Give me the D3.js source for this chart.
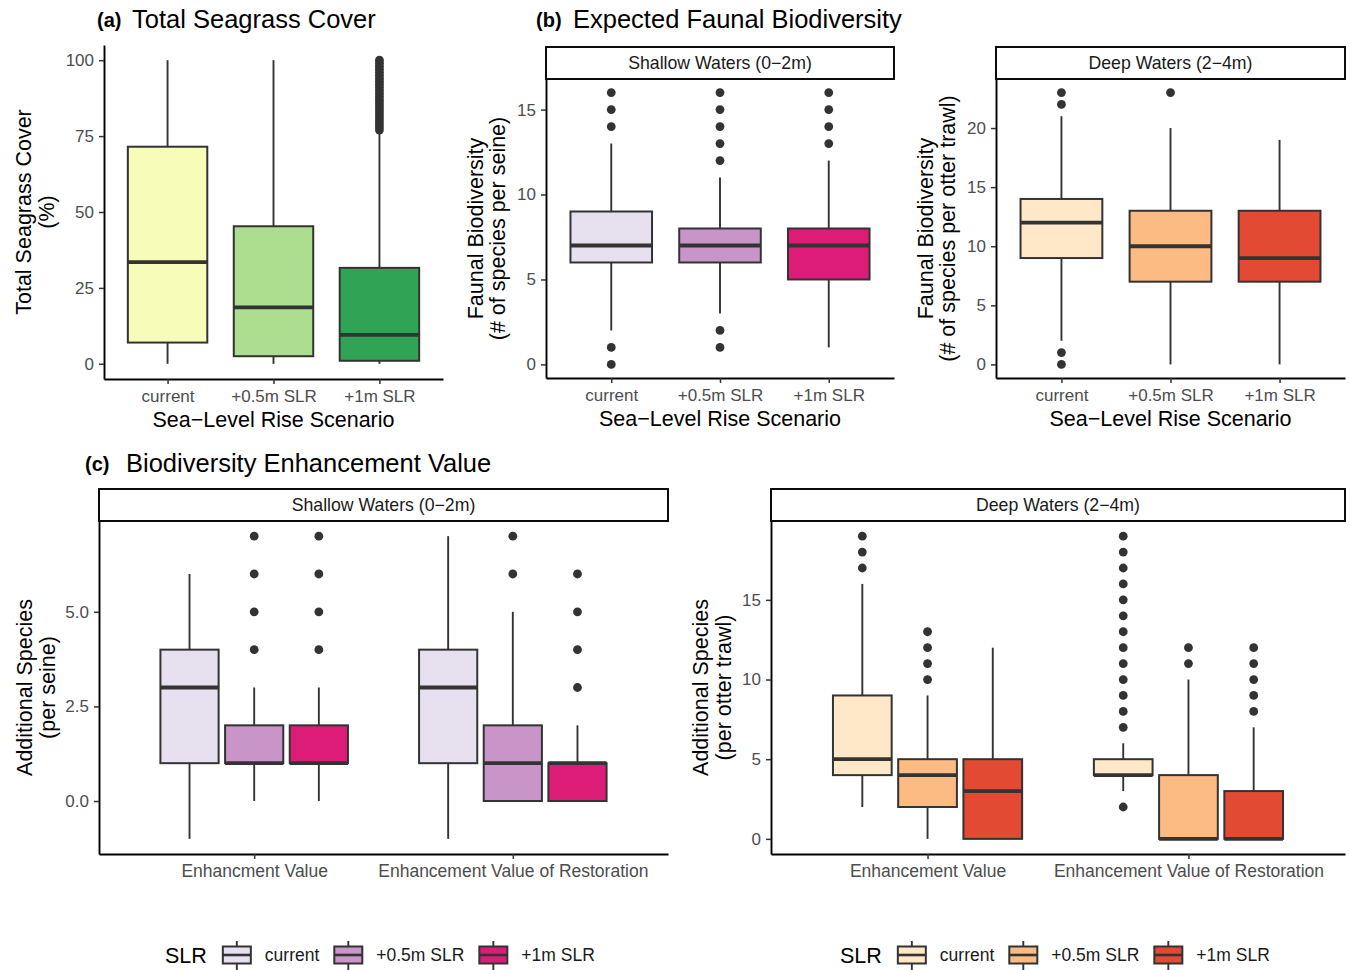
<!DOCTYPE html>
<html lang="en">
<head>
<meta charset="UTF-8">
<title>Seagrass Cover and Faunal Biodiversity under Sea-Level Rise</title>
<script src="https://d3js.org/d3.v7.min.js"></script>
<style>
  body { margin: 0; background: #fff; }
  svg text { font-family: "Liberation Sans", Arial, sans-serif; }
  .axis .domain { stroke: #000; stroke-width: 1.9px; }
  .axis .tick line { stroke: #333; stroke-width: 1.5px; }
  .axis .tick text { fill: #4d4d4d; font-size: 17px; }
  .axis.wide .tick text { font-size: 17.5px; }
  .axis-title { fill: #000; font-size: 21.5px; }
  .strip-label { fill: #1a1a1a; font-size: 17.7px; }
  .panel-tag { fill: #000; font-weight: bold; font-size: 20px; }
  .panel-title { fill: #000; font-size: 25.5px; }
  .legend-title { fill: #000; font-size: 21.5px; }
  .legend-label { fill: #1a1a1a; font-size: 17.5px; }
</style>
</head>
<body>
<svg width="1349" height="970"></svg>
<script>
// ---- data ----
const slrLevels = ["current", "+0.5m SLR", "+1m SLR"];
const shallowMetrics = ["Enhancment Value", "Enhancement Value of Restoration"];
const deepMetrics = ["Enhancement Value", "Enhancement Value of Restoration"];

const coverColors = ["#f7fcb9", "#addd8e", "#31a354"];
const shallowColors = ["#e7e1ef", "#c994c7", "#dd1c77"];
const deepColors = ["#fee8c8", "#fdbb84", "#e34a33"];

// each box: [lower whisker, Q1, median, Q3, upper whisker]
const coverStats = [[0, 7, 33.5, 71.5, 100], [0, 2.5, 18.6, 45.3, 100], [0, 1, 9.5, 31.6, 76.5]];
const coverOutliers = [[], [], [77, 78, 79, 80, 81, 82, 83, 84, 85, 86, 87, 88, 89, 90, 91, 92, 93, 94, 95, 96, 97, 98, 99, 100]];

const seineStats = [[2, 6, 7, 9, 13], [3, 6, 7, 8, 11], [1, 5, 7, 8, 12]];
const seineOutliers = [[0, 1, 14, 15, 16], [1, 2, 12, 13, 14, 15, 16], [13, 14, 15, 16]];

const trawlStats = [[2, 9, 12, 14, 21], [0, 7, 10, 13, 20], [0, 7, 9, 13, 19]];
const trawlOutliers = [[0, 1, 22, 23], [23], []];

// [metric][SLR level]
const shallowGainStats = [
  [[-1, 1, 3, 4, 6], [0, 1, 1, 2, 3], [0, 1, 1, 2, 3]],
  [[-1, 1, 3, 4, 7], [0, 0, 1, 2, 5], [0, 0, 1, 1, 2]]
];
const shallowGainOutliers = [
  [[], [4, 5, 6, 7], [4, 5, 6, 7]],
  [[], [6, 7], [3, 4, 5, 6]]
];
const deepGainStats = [
  [[2, 4, 5, 9, 16], [0, 2, 4, 5, 9], [0, 0, 3, 5, 12]],
  [[3, 4, 4, 5, 6], [0, 0, 0, 4, 10], [0, 0, 0, 3, 7]]
];
const deepGainOutliers = [
  [[17, 18, 19], [10, 11, 12, 13], []],
  [[2, 7, 8, 9, 10, 11, 12, 13, 14, 15, 16, 17, 18, 19], [11, 12], [8, 9, 10, 11, 12]]
];

// ---- drawing ----
const svg = d3.select("svg");
const ink = "#333";

function drawPanel(p) {
  const g = svg.append("g");

  // boxes, flattened
  let boxes;
  if (p.dodge) {
    boxes = p.categories.flatMap((c, ci) => slrLevels.map((l, li) => ({
      cat: c, level: li, s: p.stats[ci][li], out: p.outliers[ci][li]
    })));
  } else {
    boxes = slrLevels.map((l, li) => ({ cat: l, level: li, s: p.stats[li], out: p.outliers[li] }));
  }

  const allVals = boxes.flatMap(b => b.s.concat(b.out));
  const [lo, hi] = d3.extent(allVals);
  const pad = (hi - lo) * 0.05;

  const x = d3.scalePoint().domain(p.categories).range([p.left, p.right]).padding(0.6);
  const y = d3.scaleLinear().domain([lo - pad, hi + pad]).range([p.bottom, p.top]);

  const step = x.step();
  const slot = p.dodge ? step * 0.75 / 3 : step * 0.75;
  const bw = p.dodge ? slot * 0.9 : slot;
  const cx = b => x(b.cat) + (p.dodge ? (b.level - 1) * slot : 0);

  // strip
  if (p.strip) {
    g.append("rect")
      .attr("x", p.left).attr("y", p.top - 32)
      .attr("width", p.right - p.left).attr("height", 32)
      .attr("fill", "#fff").attr("stroke", "#000").attr("stroke-width", 1.9);
    g.append("text").attr("class", "strip-label")
      .attr("x", (p.left + p.right) / 2).attr("y", p.top - 10)
      .attr("text-anchor", "middle").text(p.strip);
  }

  const bx = g.selectAll(".box").data(boxes).enter().append("g").attr("class", "box");

  // whiskers
  bx.append("line")
    .attr("x1", cx).attr("x2", cx)
    .attr("y1", b => y(b.s[0])).attr("y2", b => y(b.s[1]))
    .attr("stroke", ink).attr("stroke-width", 1.9);
  bx.append("line")
    .attr("x1", cx).attr("x2", cx)
    .attr("y1", b => y(b.s[3])).attr("y2", b => y(b.s[4]))
    .attr("stroke", ink).attr("stroke-width", 1.9);

  // box
  bx.append("rect")
    .attr("x", b => cx(b) - bw / 2).attr("width", bw)
    .attr("y", b => y(b.s[3])).attr("height", b => y(b.s[1]) - y(b.s[3]))
    .attr("fill", b => p.colors[b.level])
    .attr("stroke", ink).attr("stroke-width", 2);

  // median
  bx.append("line")
    .attr("x1", b => cx(b) - bw / 2).attr("x2", b => cx(b) + bw / 2)
    .attr("y1", b => y(b.s[2])).attr("y2", b => y(b.s[2]))
    .attr("stroke", ink).attr("stroke-width", 3.8);

  // outliers
  bx.selectAll("circle").data(b => b.out.map(v => ({ v, b }))).enter()
    .append("circle")
    .attr("cx", d => cx(d.b)).attr("cy", d => y(d.v))
    .attr("r", 4.4).attr("fill", ink);

  // axes
  g.append("g").attr("class", "axis")
    .attr("transform", `translate(${p.left},0)`)
    .call(d3.axisLeft(y).tickValues(p.yTicks).tickFormat(p.yFormat || d3.format("d"))
      .tickSize(5).tickSizeOuter(0).tickPadding(5))
    .call(a => a.selectAll("text").attr("font-family", null).attr("font-size", null));

  g.append("g").attr("class", p.dodge ? "axis wide" : "axis")
    .attr("transform", `translate(0,${p.bottom})`)
    .call(d3.axisBottom(x).tickSize(5).tickSizeOuter(0).tickPadding(6))
    .call(a => a.selectAll("text").attr("font-family", null).attr("font-size", null));

  svg.selectAll(".axis").attr("font-family", null).attr("font-size", null);

  // y title, two lines
  const midY = (p.top + p.bottom) / 2;
  p.yTitle.forEach((t, i) => {
    g.append("text").attr("class", "axis-title")
      .attr("transform", `translate(${p.yTitleX[i]},${midY}) rotate(-90)`)
      .attr("text-anchor", "middle").text(t);
  });

  if (p.xTitle) {
    g.append("text").attr("class", "axis-title")
      .attr("x", (p.left + p.right) / 2).attr("y", p.bottom + 48)
      .attr("text-anchor", "middle").text(p.xTitle);
  }
}

function drawTitle(xTag, xTitle, yBase, tag, title) {
  svg.append("text").attr("class", "panel-tag").attr("x", xTag).attr("y", yBase - 1).text(tag);
  svg.append("text").attr("class", "panel-title").attr("x", xTitle).attr("y", yBase).text(title);
}

function drawLegend(x0, yMid, colors) {
  const g = svg.append("g");
  let x = x0;
  const title = g.append("text").attr("class", "legend-title")
    .attr("x", x).attr("y", yMid + 8).text("SLR");
  x += title.node().getComputedTextLength() + 16;
  slrLevels.forEach((l, i) => {
    const kw = 28, cxk = x + kw / 2;
    g.append("line").attr("x1", cxk).attr("x2", cxk).attr("y1", yMid - 14).attr("y2", yMid + 15)
      .attr("stroke", ink).attr("stroke-width", 1.9);
    g.append("rect").attr("x", x).attr("y", yMid - 8.5).attr("width", kw).attr("height", 17)
      .attr("fill", colors[i]).attr("stroke", ink).attr("stroke-width", 2);
    g.append("line").attr("x1", x).attr("x2", x + kw).attr("y1", yMid).attr("y2", yMid)
      .attr("stroke", ink).attr("stroke-width", 2.6);
    x += kw + 14;
    const t = g.append("text").attr("class", "legend-label")
      .attr("x", x).attr("y", yMid + 6).text(l);
    x += t.node().getComputedTextLength() + 15;
  });
}

drawTitle(97, 132, 28, "(a)", "Total Seagrass Cover");
drawTitle(536, 573, 28, "(b)", "Expected Faunal Biodiversity");
drawTitle(85, 126, 472, "(c)", "Biodiversity Enhancement Value");

drawPanel({
  left: 104, right: 443, top: 45, bottom: 379,
  categories: slrLevels, stats: coverStats, outliers: coverOutliers, colors: coverColors,
  yTicks: [0, 25, 50, 75, 100],
  yTitle: ["Total Seagrass Cover", "(%)"], yTitleX: [31, 54],
  xTitle: "Sea\u2212Level Rise Scenario"
});

drawPanel({
  left: 546, right: 894, top: 79, bottom: 378,
  categories: slrLevels, stats: seineStats, outliers: seineOutliers, colors: shallowColors,
  yTicks: [0, 5, 10, 15], strip: "Shallow Waters (0\u22122m)",
  yTitle: ["Faunal Biodiversity", "(# of species per seine)"], yTitleX: [483, 505],
  xTitle: "Sea\u2212Level Rise Scenario"
});

drawPanel({
  left: 996, right: 1345, top: 79, bottom: 378,
  categories: slrLevels, stats: trawlStats, outliers: trawlOutliers, colors: deepColors,
  yTicks: [0, 5, 10, 15, 20], strip: "Deep Waters (2\u22124m)",
  yTitle: ["Faunal Biodiversity", "(# of species per otter trawl)"], yTitleX: [933, 955],
  xTitle: "Sea\u2212Level Rise Scenario"
});

drawPanel({
  left: 99, right: 668, top: 521, bottom: 854, dodge: true,
  categories: shallowMetrics, stats: shallowGainStats, outliers: shallowGainOutliers, colors: shallowColors,
  yTicks: [0, 2.5, 5], yFormat: d3.format(".1f"), strip: "Shallow Waters (0\u22122m)",
  yTitle: ["Additional Species", "(per seine)"], yTitleX: [32, 55]
});

drawPanel({
  left: 771, right: 1345, top: 521, bottom: 854, dodge: true,
  categories: deepMetrics, stats: deepGainStats, outliers: deepGainOutliers, colors: deepColors,
  yTicks: [0, 5, 10, 15], strip: "Deep Waters (2\u22124m)",
  yTitle: ["Additional Species", "(per otter trawl)"], yTitleX: [708, 731]
});

drawLegend(165, 955, shallowColors);
drawLegend(840, 955, deepColors);
</script>
</body>
</html>
